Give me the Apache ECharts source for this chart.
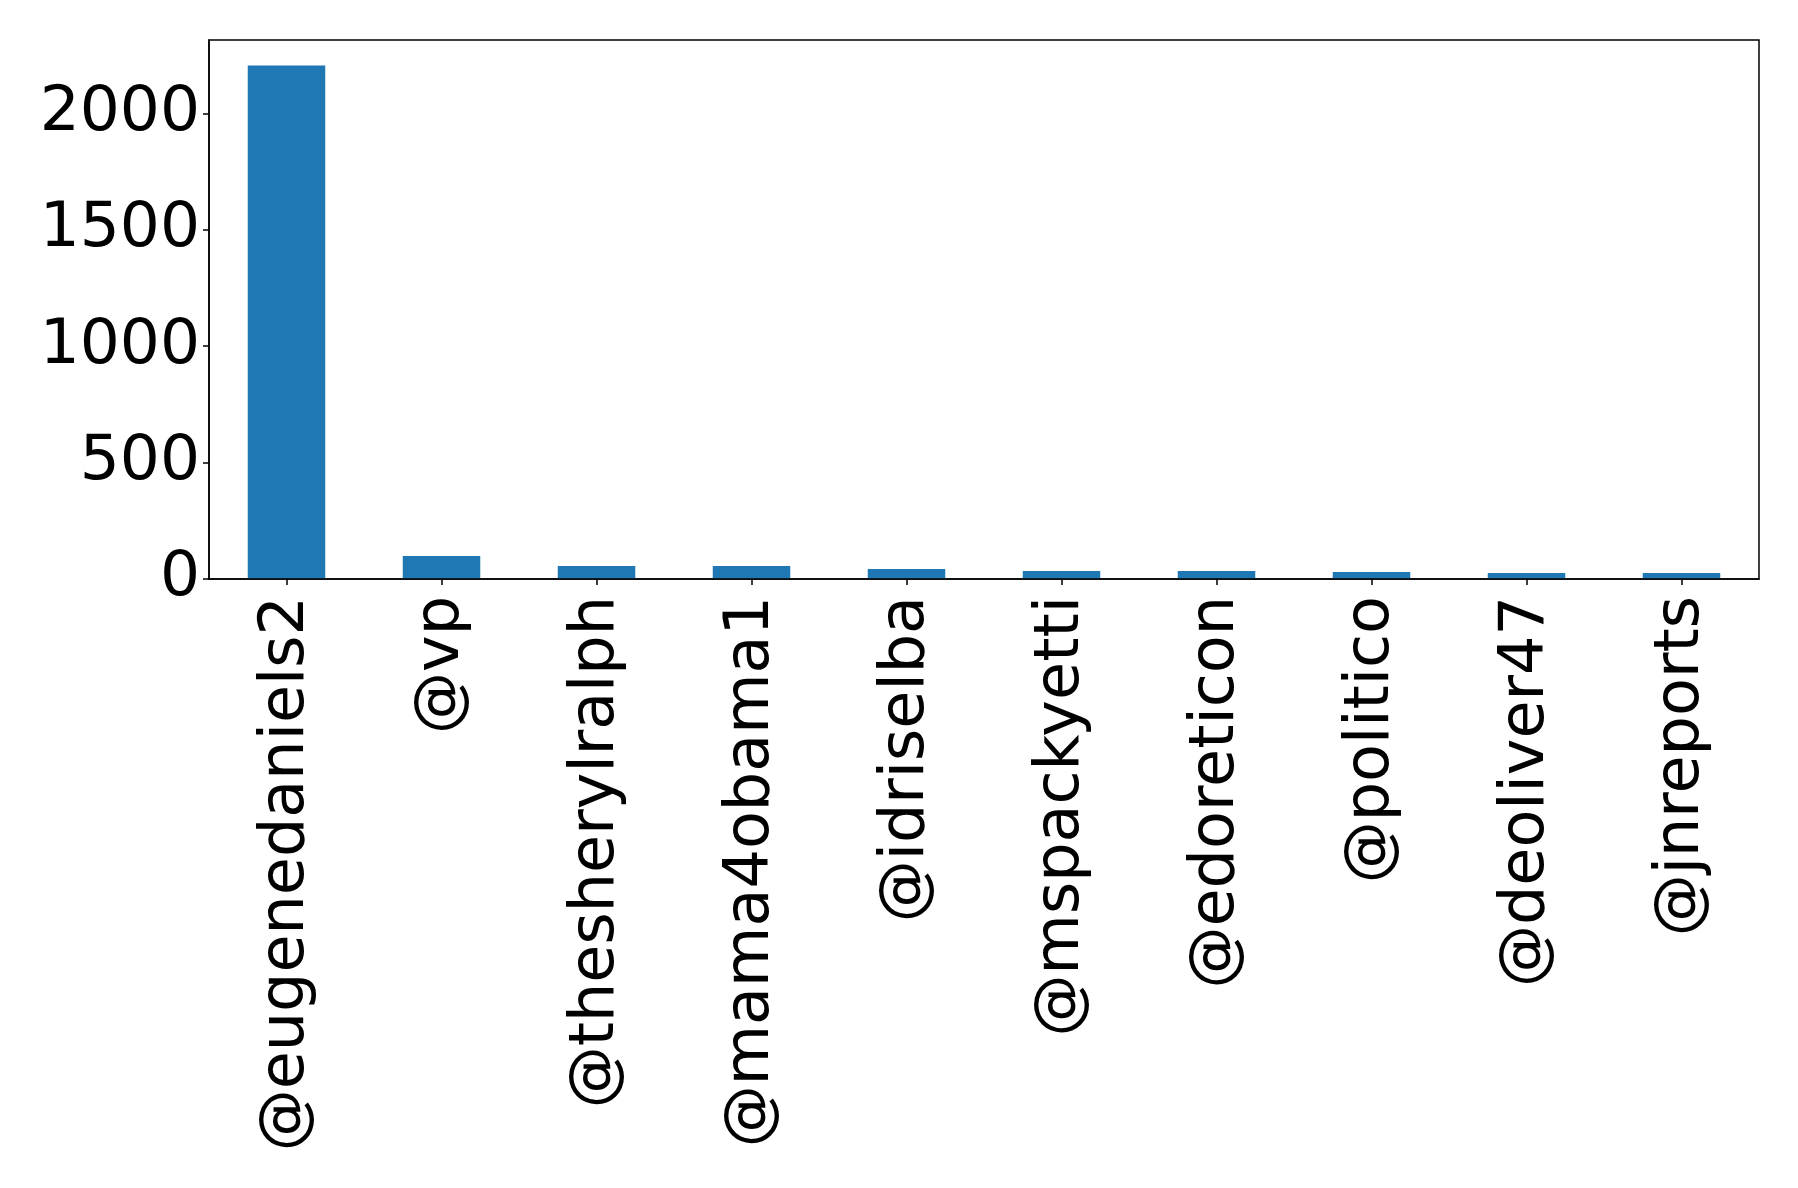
<!DOCTYPE html>
<html>
<head>
<meta charset="utf-8">
<script src="https://cdn.jsdelivr.net/npm/echarts@6/dist/echarts.min.js"></script>
<style>
html,body{margin:0;padding:0;background:#fff;}
#chart{width:1798px;height:1188px;}
</style>
</head>
<body>
<div id="chart"></div>
<script>
const categories = ['@eugenedaniels2','@vp','@thesherylralph','@mama4obama1','@idriselba','@mspackyetti','@edoreticon','@politico','@deoliver47','@jnreports'];
const values = [2205, 99, 56, 56, 43, 34, 34, 30, 26, 26];
const yTicks = [0, 500, 1000, 1500, 2000];

const chart = echarts.init(document.getElementById('chart'), null, {renderer:'canvas'});
chart.setOption({
  animation: false,
  backgroundColor: '#ffffff',
  grid: {left: 209, right: 39, top: 40, bottom: 609, containLabel: false},
  xAxis: {
    type: 'category',
    data: categories,
    boundaryGap: true,
    axisLine: {show: true, lineStyle: {color: '#000', width: 1.5}},
    axisTick: {show: true, alignWithLabel: true, length: 6, inside: false, lineStyle: {color: '#000', width: 1.5}},
    axisLabel: {rotate: 90, interval: 0, fontFamily: 'DejaVu Sans', fontSize: 62, color: '#000', margin: 17}
  },
  yAxis: {
    type: 'value',
    min: 0,
    max: 2315,
    interval: 500,
    axisLine: {show: true, lineStyle: {color: '#000', width: 1.5}},
    axisTick: {show: true, length: 6, lineStyle: {color: '#000', width: 1.5}},
    splitLine: {show: false},
    axisLabel: {
      fontFamily: 'DejaVu Sans', fontSize: 63, color: '#000', margin: 9,
      formatter: function (v) { return yTicks.indexOf(v) >= 0 ? String(v) : ''; },
      showMaxLabel: false
    }
  },
  graphic: [{
    type: 'rect',
    shape: {x: 209, y: 40, width: 1798 - 209 - 39, height: 1188 - 609 - 40},
    style: {fill: 'none', stroke: '#000', lineWidth: 1.5},
    silent: true, z: 10
  }],
  series: [{
    type: 'bar',
    data: values,
    barWidth: '50%',
    itemStyle: {color: '#1f77b4'}
  }]
});
</script>
</body>
</html>
